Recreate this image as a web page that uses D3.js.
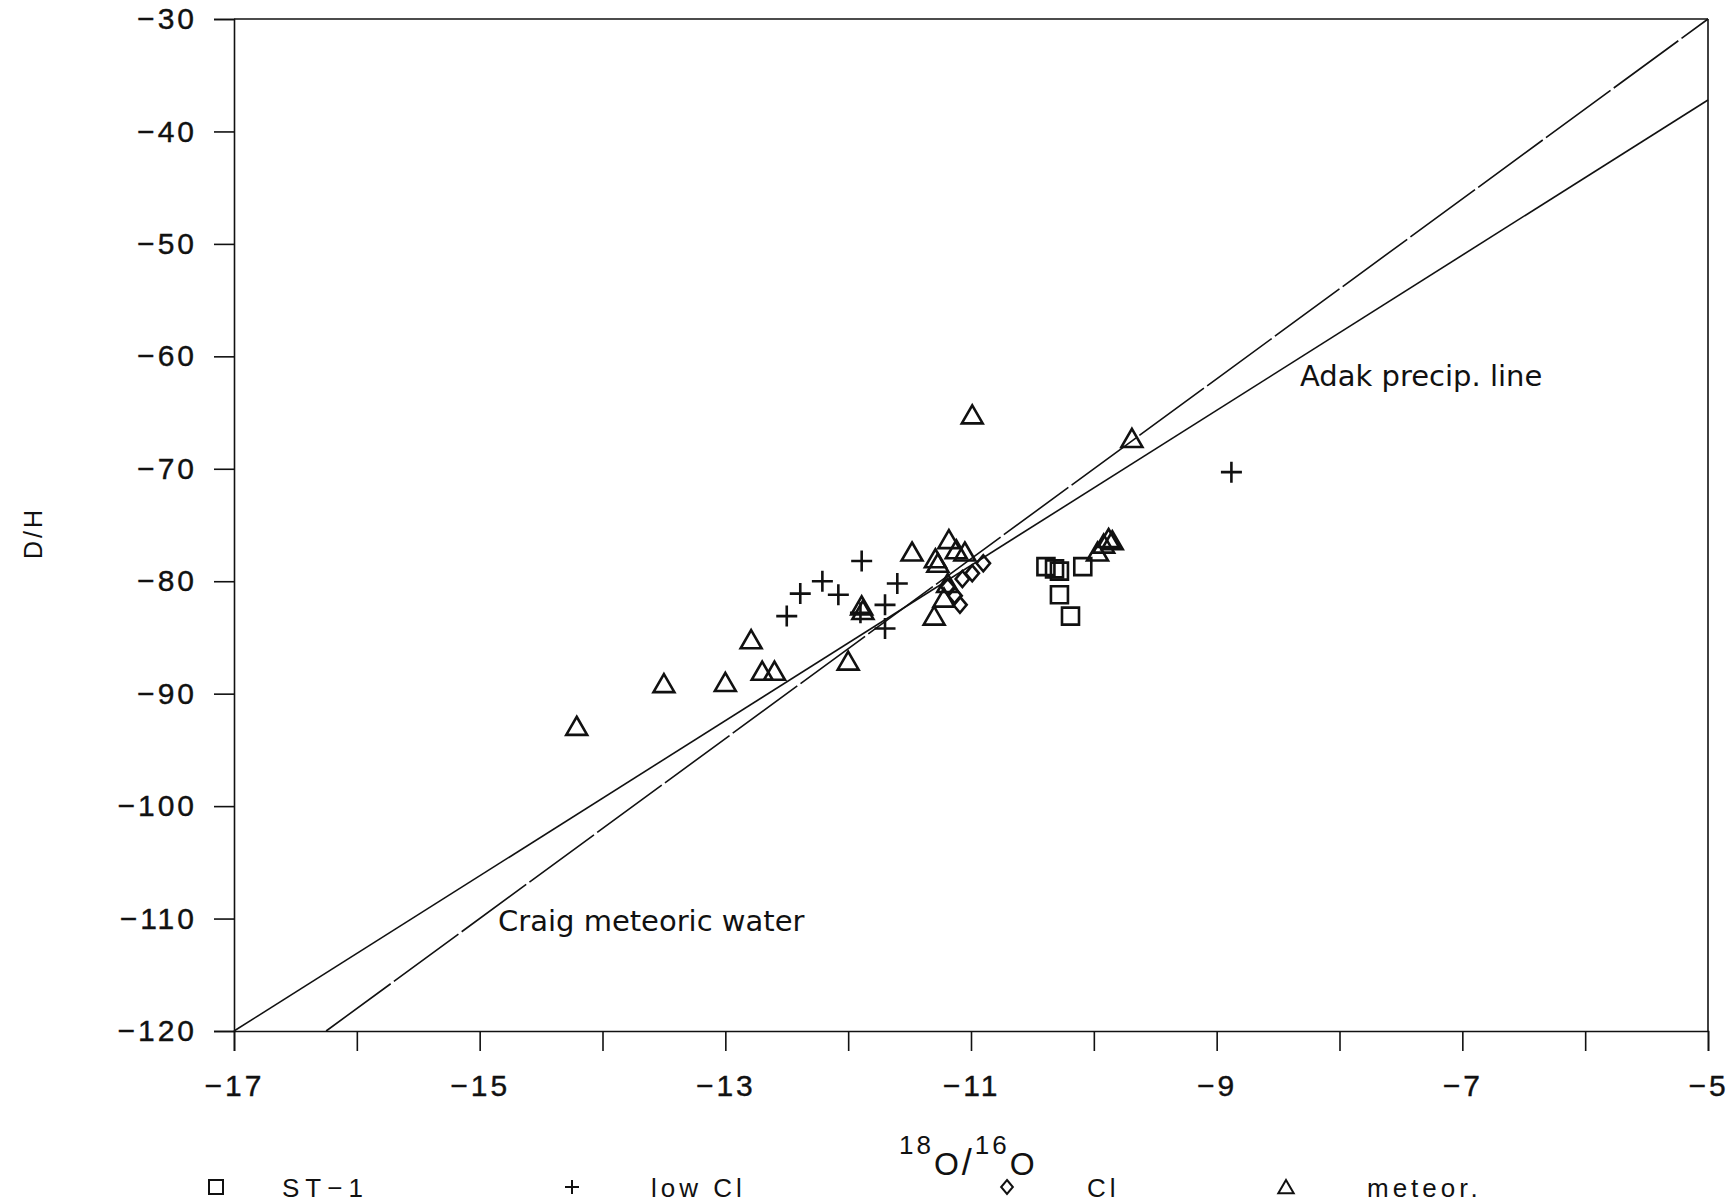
<!DOCTYPE html>
<html>
<head>
<meta charset="utf-8">
<script src="https://cdn.jsdelivr.net/npm/d3@7"></script>
<style>
  body { margin: 0; background: #fff; }
  svg { display: block; }
  text { fill: #111; }
</style>
</head>
<body>
<svg id="chart" width="1735" height="1203"></svg>
<script>
// Axis ticks and labels
const xTicks = [-17, -16, -15, -14, -13, -12, -11, -10, -9, -8, -7, -6, -5];
const xTickLabels = [-17, -15, -13, -11, -9, -7, -5];
const yTicks = [-30, -40, -50, -60, -70, -80, -90, -100, -110, -120];

// Samples: [18O/16O, D/H]
const st1 = [
  [-10.39, -78.7], [-10.28, -79.1], [-10.32, -78.9], [-10.09, -78.7],
  [-10.28, -81.2], [-10.19, -83.1]
];
const lowCl = [
  [-12.50, -83.1], [-12.39, -81.1], [-12.21, -80.0], [-12.08, -81.2],
  [-11.89, -78.2], [-11.90, -82.8], [-11.70, -82.1], [-11.60, -80.2],
  [-11.70, -84.2], [-8.88, -70.3]
];
const cl = [
  [-11.19, -80.5], [-11.13, -81.3], [-11.09, -82.1], [-11.07, -79.8],
  [-10.99, -79.3], [-10.90, -78.4]
];
const meteor = [
  [-14.21, -92.9], [-13.50, -89.1], [-13.00, -89.0], [-12.79, -85.2],
  [-12.70, -88.0], [-12.60, -88.0], [-12.00, -87.1], [-11.89, -82.2],
  [-11.88, -82.6], [-11.48, -77.4], [-11.29, -78.0], [-11.27, -78.4],
  [-11.18, -76.3], [-11.12, -77.2], [-11.05, -77.4], [-11.19, -80.2],
  [-11.22, -81.5], [-11.30, -83.1], [-10.99, -65.2], [-9.69, -67.3],
  [-9.97, -77.4], [-9.92, -76.7], [-9.88, -76.2], [-9.85, -76.4]
];

// Reference lines: [18O/16O, D/H] end points
const craigLine = [[-16.25, -120], [-5, -30]];
const adakLine = [[-17, -120], [-5, -37.2]];

const legendItems = [
  { key: "square", label: "ST\u22121" },
  { key: "plus", label: "low Cl" },
  { key: "diamond", label: "Cl" },
  { key: "triangle", label: "meteor." }
];

const svg = d3.select("#chart");
const x = d3.scaleLinear().domain([-17, -5]).range([234, 1708]);
const y = d3.scaleLinear().domain([-120, -30]).range([1031, 19]);

const ink = "#111";
const tickFont = "'Liberation Sans', Arial, sans-serif";
const noteFont = "'DejaVu Sans', Verdana, sans-serif";

// Marker outlines centred at the origin
const shapes = {
  square: s => `M${-s/2},${-s/2}H${s/2}V${s/2}H${-s/2}Z`,
  plus: s => `M${-s/2},0H${s/2}M0,${-s/2}V${s/2}`,
  diamond: s => `M0,${-s/2}L${s*0.42},0L0,${s/2}L${-s*0.42},0Z`,
  triangle: s => `M0,${-s*0.5}L${s*0.55},${s*0.45}L${-s*0.55},${s*0.45}Z`
};

// Plot frame
const frame = svg.append("g").attr("stroke", ink).attr("stroke-width", 1.6).attr("fill", "none");
frame.append("line").attr("x1", x(-17)).attr("x2", x(-5)).attr("y1", y(-30)).attr("y2", y(-30));
frame.append("line").attr("x1", x(-5)).attr("x2", x(-5)).attr("y1", y(-30)).attr("y2", y(-120));

// Axes
const xAxis = d3.axisBottom(x)
  .tickValues(xTicks)
  .tickSize(20)
  .tickPadding(24)
  .tickFormat(d => xTickLabels.includes(d) ? String(d).replace("-", "\u2212") : "");
const gx = svg.append("g").attr("transform", `translate(0,${y(-120)})`).call(xAxis);

const yAxis = d3.axisLeft(y)
  .tickValues(yTicks)
  .tickSize(20)
  .tickPadding(17)
  .tickFormat(d => String(d).replace("-", "\u2212"));
const gy = svg.append("g").attr("transform", `translate(${x(-17)},0)`).call(yAxis);

[gx, gy].forEach(g => {
  g.select(".domain").attr("stroke", ink).attr("stroke-width", 1.6);
  g.selectAll(".tick line").attr("stroke", ink).attr("stroke-width", 1.6);
  g.selectAll(".tick text")
    .attr("fill", ink)
    .attr("stroke", ink).attr("stroke-width", 0.4)
    .style("font-family", tickFont)
    .style("font-size", "30px")
    .style("letter-spacing", "3px");
});

// Reference lines
const line = d3.line().x(d => x(d[0])).y(d => y(d[1]));
svg.append("path").datum(adakLine).attr("d", line)
  .attr("fill", "none").attr("stroke", ink).attr("stroke-width", 1.6);
svg.append("path").datum(craigLine).attr("d", line)
  .attr("fill", "none").attr("stroke", ink).attr("stroke-width", 1.6)
  .attr("stroke-dasharray", "80,4");

svg.append("text").attr("x", 1300).attr("y", 386)
  .style("font-family", noteFont).style("font-size", "29px")
  .text("Adak precip. line");
svg.append("text").attr("x", 498).attr("y", 931)
  .style("font-family", noteFont).style("font-size", "29px")
  .text("Craig meteoric water");

// Data markers
function drawSeries(data, key, size) {
  svg.append("g")
    .selectAll("path")
    .data(data)
    .join("path")
    .attr("transform", d => `translate(${x(d[0])},${y(d[1])})`)
    .attr("d", shapes[key](size))
    .attr("fill", "none")
    .attr("stroke", ink)
    .attr("stroke-width", 2.6);
}
drawSeries(st1, "square", 17);
drawSeries(lowCl, "plus", 21);
drawSeries(cl, "diamond", 16);
drawSeries(meteor, "triangle", 19);

// Axis titles
svg.append("text")
  .attr("transform", "translate(42,533) rotate(-90)")
  .attr("text-anchor", "middle")
  .style("font-family", tickFont).style("font-size", "25px").style("letter-spacing", "3px")
  .text("D/H");

const xt = svg.append("text").attr("x", 899).attr("y", 1175)
  .style("font-family", tickFont).style("font-size", "32px").style("letter-spacing", "3px");
xt.append("tspan").attr("dy", -21).style("font-size", "26px").text("18");
xt.append("tspan").attr("dy", 21).text("O");
xt.append("tspan").style("font-size", "36px").text("/");
xt.append("tspan").attr("dy", -21).style("font-size", "26px").text("16");
xt.append("tspan").attr("dy", 21).text("O");

// Legend
const legendMarkX = [216, 572, 1007, 1286];
const legendTextX = [282, 651, 1087, 1367];
const legendY = 1187;
legendItems.forEach((item, i) => {
  svg.append("path")
    .attr("transform", `translate(${legendMarkX[i]},${legendY})`)
    .attr("d", shapes[item.key](14))
    .attr("fill", "none").attr("stroke", ink).attr("stroke-width", 2);
  svg.append("text")
    .attr("x", legendTextX[i]).attr("y", legendY + 10)
    .style("font-family", tickFont).style("font-size", "26px")
    .style("letter-spacing", i === 0 ? "6px" : "4px")
    .text(item.label);
});
</script>
</body>
</html>
